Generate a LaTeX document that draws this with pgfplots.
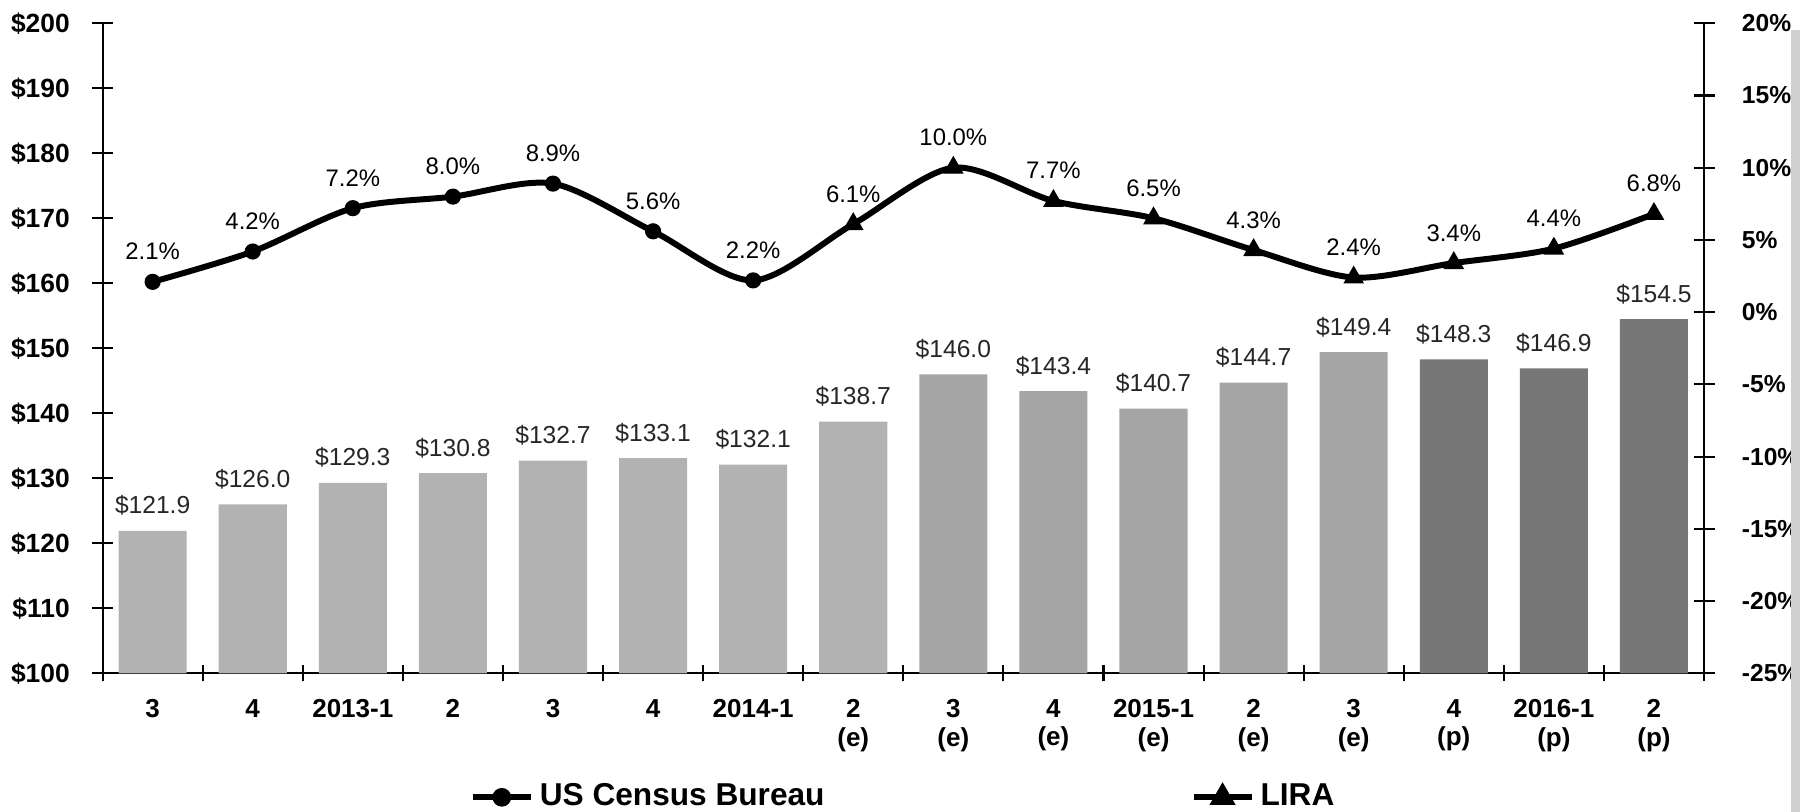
\documentclass[border=0pt]{standalone}
\usepackage{pgfplots}
\pgfplotsset{compat=1.18}
\usepackage{fontspec}
\setmainfont{Liberation Sans}

\definecolor{barA}{HTML}{B2B2B2}
\definecolor{barB}{HTML}{A5A5A5}
\definecolor{barC}{HTML}{777777}
\definecolor{edge}{HTML}{CFCFCF}

\pgfplotsset{
  base/.style={
    scale only axis, width=160.14mm, height=65mm,
    at={(0,0)}, anchor=south west,
    xmin=-0.5, xmax=15.5,
    /pgf/number format/assume math mode=true,
    axis line style={line width=0.6pt, black},
    tick style={line width=0.6pt, black},
    tick align=center,
    major tick length=2.1mm,
    minor tick length=1.6mm,
  },
  dollar/.style={
    nodes near coords={\$\pgfmathprintnumber[fixed,fixed zerofill,precision=1]{\pgfplotspointmeta}},
    every node near coord/.append style={font=\fontsize{7}{8}\selectfont, text=black!85,
      anchor=base, inner sep=0pt, yshift=1.7mm},
  },
  pct/.style={
    nodes near coords={\pgfmathprintnumber[fixed,fixed zerofill,precision=1]{\pgfplotspointmeta}\%},
    every node near coord/.append style={font=\fontsize{6.8}{8}\selectfont, text=black,
      anchor=base, inner sep=0pt, yshift=2.2mm},
  },
  shortleg/.style={
    legend image code/.code={\draw[mark repeat=2,mark phase=2,##1]
      plot coordinates {(0mm,0mm) (2.9mm,0mm) (5.8mm,0mm)};}
  },
}

\begin{document}
\begin{tikzpicture}
\useasboundingbox (-10.26mm,-13.87mm) rectangle (169.74mm,67.33mm);

% left axis: bars
\begin{axis}[base,
  ymin=100, ymax=200, ytick={100,110,...,200},
  yticklabel={\textbf{\$\pgfmathprintnumber{\tick}}},
  yticklabel style={font=\fontsize{7.5}{9}\selectfont, xshift=-1.0mm},
  axis y line*=left, axis x line*=bottom,
  xtick={0,...,15},
  xticklabels={3,4,2013-1,2,3,4,2014-1,{2\\(e)},{3\\(e)},{4\\(e)},{2015-1\\(e)},{2\\(e)},{3\\(e)},{4\\(p)},{2016-1\\(p)},{2\\(p)}},
  xticklabel style={align=center, font=\bfseries\fontsize{7.4}{8.2}\selectfont, yshift=-0.3mm},
  major x tick style={draw=none},
  minor xtick={-0.5,0.5,...,15.5},
]
\addplot[ybar, bar width=0.68, bar shift=0pt, fill=barA, draw=none, dollar]
  coordinates {(0,121.9) (1,126.0) (2,129.3) (3,130.8) (4,132.7) (5,133.1) (6,132.1) (7,138.7)};
\addplot[ybar, bar width=0.68, bar shift=0pt, fill=barB, draw=none, dollar]
  coordinates {(8,146.0) (9,143.4) (10,140.7) (11,144.7) (12,149.4)};
\addplot[ybar, bar width=0.68, bar shift=0pt, fill=barC, draw=none, dollar]
  coordinates {(13,148.3) (14,146.9) (15,154.5)};
\end{axis}

% right axis: growth line
\begin{axis}[base,
  ymin=-25, ymax=20, ytick={-25,-20,...,20},
  yticklabel={\textbf{\pgfmathprintnumber{\tick}\%}},
  yticklabel style={font=\fontsize{7}{9}\selectfont, xshift=1.5mm},
  axis y line*=right, axis x line=none,
  legend columns=2,
  legend style={at={(0.2289,-0.1908)}, anchor=west, draw=none, fill=none, inner sep=0pt,
    font=\bfseries\fontsize{9}{10}\selectfont,
    nodes={inner sep=0.6mm},
    /tikz/every even column/.append style={column sep=36mm}},
]
\addplot[black, line width=1.7pt, smooth, mark=none, forget plot]
  coordinates {(0,2.1) (1,4.2) (2,7.2) (3,8.0) (4,8.9) (5,5.6) (6,2.2) (7,6.1)
               (8,10.0) (9,7.7) (10,6.5) (11,4.3) (12,2.4) (13,3.4) (14,4.4) (15,6.8)};
\addplot[black, only marks, mark=*, mark size=2.1pt, pct, forget plot]
  coordinates {(0,2.1) (1,4.2) (2,7.2) (3,8.0) (4,8.9) (5,5.6) (6,2.2)};
\addplot[black, only marks, mark=triangle*, mark size=3pt, pct, forget plot]
  coordinates {(7,6.1) (8,10.0) (9,7.7) (10,6.5) (11,4.3) (12,2.4) (13,3.4) (14,4.4) (15,6.8)};
\addlegendimage{black, line width=1.7pt, mark=*, mark size=1.8pt, shortleg}
\addlegendentry{US Census Bureau}
\addlegendimage{black, line width=1.7pt, mark=triangle*, mark size=2.6pt, shortleg}
\addlegendentry{LIRA}
\end{axis}

% grey slide background showing at the right edge
\fill[edge] (168.84mm,-13.87mm) rectangle (169.74mm,64.3mm);
\end{tikzpicture}
\end{document}
